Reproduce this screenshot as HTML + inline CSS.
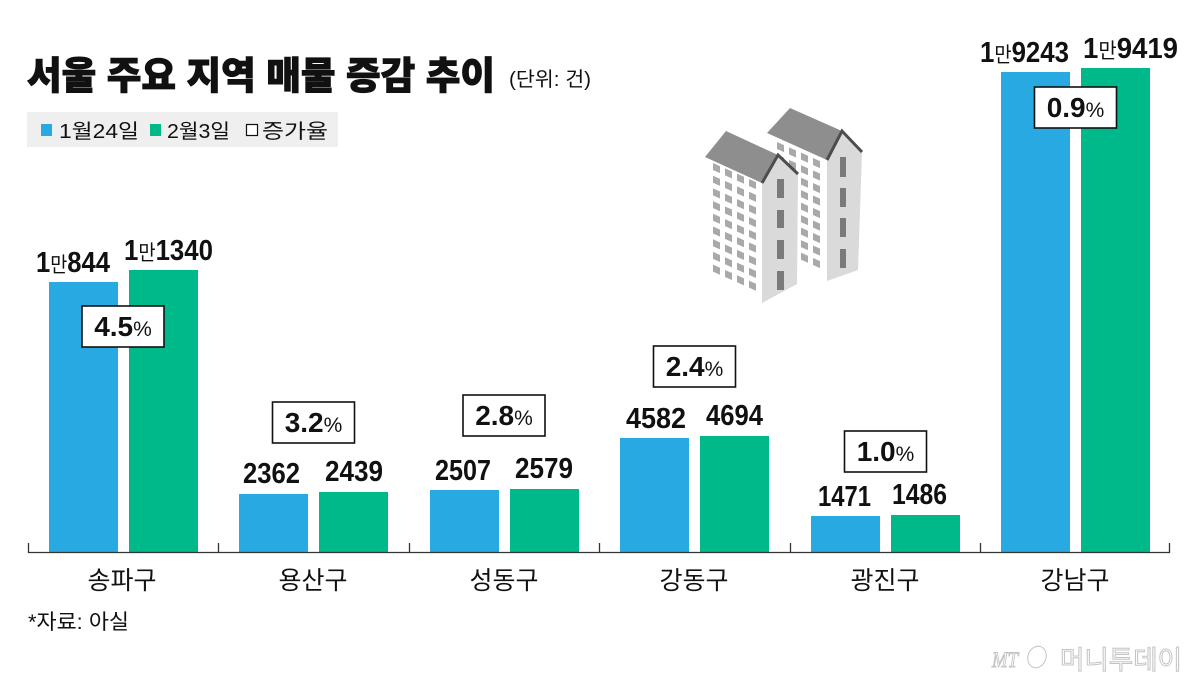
<!DOCTYPE html>
<html>
<head>
<meta charset="utf-8">
<style>
  html,body{margin:0;padding:0;background:#fff;}
  svg{display:block;}
  .num{font-family:"Liberation Sans","Noto Sans CJK KR",sans-serif;font-weight:700;fill:#111;}
  .kr{font-family:"Liberation Sans","Noto Sans CJK KR",sans-serif;fill:#111;}
</style>
</head>
<body>
<svg width="1200" height="684" viewBox="0 0 1200 684" xmlns="http://www.w3.org/2000/svg">
  <rect width="1200" height="684" fill="#fff"/>

  <!-- Title -->
  <text class="kr" x="27" y="89" font-size="38" font-weight="900" stroke="#111" stroke-width="0.9" textLength="468" lengthAdjust="spacingAndGlyphs">서울 주요 지역 매물 증감 추이</text>
  <text class="kr" x="509" y="86" font-size="20" textLength="82" lengthAdjust="spacingAndGlyphs">(단위: 건)</text>

  <!-- Legend -->
  <rect x="27" y="112" width="311" height="35" fill="#efefef"/>
  <rect x="41" y="124" width="11" height="12" fill="#29a9e1"/>
  <text class="kr" x="59" y="138" font-size="20" textLength="80" lengthAdjust="spacingAndGlyphs">1월24일</text>
  <rect x="150" y="124" width="11" height="12" fill="#00b98b"/>
  <text class="kr" x="167" y="138" font-size="20" textLength="63" lengthAdjust="spacingAndGlyphs">2월3일</text>
  <rect x="246.5" y="124.5" width="11" height="11" fill="#fff" stroke="#111" stroke-width="1.2"/>
  <text class="kr" x="262" y="138" font-size="20" textLength="66" lengthAdjust="spacingAndGlyphs">증가율</text>

  <!-- Buildings -->
  <!-- back building -->
  <g>
    <g transform="translate(777,142) skewY(24)" fill="#a9a9a9">
      <rect x="0" y="0" width="7" height="7"/><rect x="12" y="0" width="7" height="7"/><rect x="24" y="0" width="7" height="7"/><rect x="36" y="0" width="7" height="7"/>
      <rect x="0" y="12.5" width="7" height="7"/><rect x="12" y="12.5" width="7" height="7"/><rect x="24" y="12.5" width="7" height="7"/><rect x="36" y="12.5" width="7" height="7"/>
      <rect x="0" y="25" width="7" height="7"/><rect x="12" y="25" width="7" height="7"/><rect x="24" y="25" width="7" height="7"/><rect x="36" y="25" width="7" height="7"/>
      <rect x="0" y="37.5" width="7" height="7"/><rect x="12" y="37.5" width="7" height="7"/><rect x="24" y="37.5" width="7" height="7"/><rect x="36" y="37.5" width="7" height="7"/>
      <rect x="0" y="50" width="7" height="7"/><rect x="12" y="50" width="7" height="7"/><rect x="24" y="50" width="7" height="7"/><rect x="36" y="50" width="7" height="7"/>
      <rect x="0" y="62.5" width="7" height="7"/><rect x="12" y="62.5" width="7" height="7"/><rect x="24" y="62.5" width="7" height="7"/><rect x="36" y="62.5" width="7" height="7"/>
      <rect x="0" y="75" width="7" height="7"/><rect x="12" y="75" width="7" height="7"/><rect x="24" y="75" width="7" height="7"/><rect x="36" y="75" width="7" height="7"/>
      <rect x="0" y="87.5" width="7" height="7"/><rect x="12" y="87.5" width="7" height="7"/><rect x="24" y="87.5" width="7" height="7"/><rect x="36" y="87.5" width="7" height="7"/>
      <rect x="0" y="100" width="7" height="7"/><rect x="12" y="100" width="7" height="7"/><rect x="24" y="100" width="7" height="7"/><rect x="36" y="100" width="7" height="7"/>
    </g>
    <polygon points="827,160 842,131 862,152 858,270 827,281" fill="#dadada"/>
    <rect x="840" y="157" width="6" height="20" fill="#7a7a7a"/>
    <rect x="840" y="188" width="6" height="19" fill="#7a7a7a"/>
    <rect x="840" y="218" width="6" height="19" fill="#7a7a7a"/>
    <rect x="840" y="249" width="6" height="19" fill="#7a7a7a"/>
    <polygon points="767,133 790,108 842,131 827,160" fill="#8e8e8e"/>
    <polyline points="827,160 842,131 862,152" fill="none" stroke="#4d4d4d" stroke-width="3"/>
  </g>
  <!-- front building -->
  <g>
    <polygon points="706,158 762,183 762,303 706,285" fill="#fff"/>
    <g transform="translate(713,163) skewY(24)" fill="#a9a9a9">
      <rect x="0" y="0" width="7" height="7"/><rect x="12" y="0" width="7" height="7"/><rect x="24" y="0" width="7" height="7"/><rect x="36" y="0" width="7" height="7"/>
      <rect x="0" y="12.7" width="7" height="7"/><rect x="12" y="12.7" width="7" height="7"/><rect x="24" y="12.7" width="7" height="7"/><rect x="36" y="12.7" width="7" height="7"/>
      <rect x="0" y="25.4" width="7" height="7"/><rect x="12" y="25.4" width="7" height="7"/><rect x="24" y="25.4" width="7" height="7"/><rect x="36" y="25.4" width="7" height="7"/>
      <rect x="0" y="38.1" width="7" height="7"/><rect x="12" y="38.1" width="7" height="7"/><rect x="24" y="38.1" width="7" height="7"/><rect x="36" y="38.1" width="7" height="7"/>
      <rect x="0" y="50.8" width="7" height="7"/><rect x="12" y="50.8" width="7" height="7"/><rect x="24" y="50.8" width="7" height="7"/><rect x="36" y="50.8" width="7" height="7"/>
      <rect x="0" y="63.5" width="7" height="7"/><rect x="12" y="63.5" width="7" height="7"/><rect x="24" y="63.5" width="7" height="7"/><rect x="36" y="63.5" width="7" height="7"/>
      <rect x="0" y="76.2" width="7" height="7"/><rect x="12" y="76.2" width="7" height="7"/><rect x="24" y="76.2" width="7" height="7"/><rect x="36" y="76.2" width="7" height="7"/>
      <rect x="0" y="88.9" width="7" height="7"/><rect x="12" y="88.9" width="7" height="7"/><rect x="24" y="88.9" width="7" height="7"/><rect x="36" y="88.9" width="7" height="7"/>
      <rect x="0" y="101.6" width="7" height="7"/><rect x="12" y="101.6" width="7" height="7"/><rect x="24" y="101.6" width="7" height="7"/><rect x="36" y="101.6" width="7" height="7"/>
    </g>
    <polygon points="762,183 778,155 798,174 797,284 762,303" fill="#dadada"/>
    <rect x="777" y="179" width="7" height="19" fill="#7a7a7a"/>
    <rect x="777" y="210" width="7" height="18" fill="#7a7a7a"/>
    <rect x="777" y="240" width="7" height="19" fill="#7a7a7a"/>
    <rect x="777" y="271" width="7" height="19" fill="#7a7a7a"/>
    <polygon points="705,157 726,131 778,155 762,183" fill="#8e8e8e"/>
    <polyline points="762,183 778,155 798,174" fill="none" stroke="#4d4d4d" stroke-width="3"/>
  </g>

  <!-- Bars -->
  <g>
    <rect x="49" y="282" width="69" height="271" fill="#29a9e1"/>
    <rect x="129" y="270" width="69" height="283" fill="#00b98b"/>
    <rect x="239" y="494" width="69" height="59" fill="#29a9e1"/>
    <rect x="319" y="492" width="69" height="61" fill="#00b98b"/>
    <rect x="430" y="490" width="69" height="63" fill="#29a9e1"/>
    <rect x="510" y="489" width="69" height="64" fill="#00b98b"/>
    <rect x="620" y="438" width="69" height="115" fill="#29a9e1"/>
    <rect x="700" y="436" width="69" height="117" fill="#00b98b"/>
    <rect x="811" y="516" width="69" height="37" fill="#29a9e1"/>
    <rect x="891" y="515" width="69" height="38" fill="#00b98b"/>
    <rect x="1001" y="72" width="69" height="481" fill="#29a9e1"/>
    <rect x="1081" y="68" width="69" height="485" fill="#00b98b"/>
  </g>

  <!-- Axis -->
  <g stroke="#333" stroke-width="1.3" fill="none">
    <line x1="28" y1="552.5" x2="1170" y2="552.5"/>
    <line x1="28.5" y1="543" x2="28.5" y2="553"/>
    <line x1="218.5" y1="543" x2="218.5" y2="553"/>
    <line x1="409.5" y1="543" x2="409.5" y2="553"/>
    <line x1="599.5" y1="543" x2="599.5" y2="553"/>
    <line x1="790.5" y1="543" x2="790.5" y2="553"/>
    <line x1="980.5" y1="543" x2="980.5" y2="553"/>
    <line x1="1169.5" y1="543" x2="1169.5" y2="553"/>
  </g>

  <!-- Value labels -->
  <text class="num" x="36" y="272" font-size="29" textLength="74" lengthAdjust="spacingAndGlyphs">1<tspan font-size="21" font-weight="400">만</tspan>844</text>
  <text class="num" x="124" y="260" font-size="29" textLength="89" lengthAdjust="spacingAndGlyphs">1<tspan font-size="21" font-weight="400">만</tspan>1340</text>
  <text class="num" x="243" y="483" font-size="29" textLength="57" lengthAdjust="spacingAndGlyphs">2362</text>
  <text class="num" x="325" y="481" font-size="29" textLength="58" lengthAdjust="spacingAndGlyphs">2439</text>
  <text class="num" x="435" y="480" font-size="29" textLength="56" lengthAdjust="spacingAndGlyphs">2507</text>
  <text class="num" x="515" y="478" font-size="29" textLength="58" lengthAdjust="spacingAndGlyphs">2579</text>
  <text class="num" x="626" y="428" font-size="29" textLength="60" lengthAdjust="spacingAndGlyphs">4582</text>
  <text class="num" x="706" y="425" font-size="29" textLength="57" lengthAdjust="spacingAndGlyphs">4694</text>
  <text class="num" x="818" y="506" font-size="29" textLength="53" lengthAdjust="spacingAndGlyphs">1471</text>
  <text class="num" x="892" y="504" font-size="29" textLength="55" lengthAdjust="spacingAndGlyphs">1486</text>
  <text class="num" x="980" y="62" font-size="29" textLength="89" lengthAdjust="spacingAndGlyphs">1<tspan font-size="21" font-weight="400">만</tspan>9243</text>
  <text class="num" x="1083" y="58" font-size="29" textLength="95" lengthAdjust="spacingAndGlyphs">1<tspan font-size="21" font-weight="400">만</tspan>9419</text>

  <!-- Percent boxes -->
  <g fill="#fff" stroke="#111" stroke-width="1.6">
    <rect x="82" y="306" width="82" height="41"/>
    <rect x="272.5" y="402" width="82" height="41"/>
    <rect x="463" y="395" width="82" height="41"/>
    <rect x="653.5" y="346" width="82" height="41"/>
    <rect x="844.5" y="431" width="82" height="41"/>
    <rect x="1034.5" y="87" width="82" height="41"/>
  </g>
  <g class="num" font-size="28" text-anchor="middle">
    <text class="num" x="123" y="336" font-size="28">4.5<tspan font-size="21" font-weight="400">%</tspan></text>
    <text class="num" x="313.5" y="432" font-size="28">3.2<tspan font-size="21" font-weight="400">%</tspan></text>
    <text class="num" x="504" y="425" font-size="28">2.8<tspan font-size="21" font-weight="400">%</tspan></text>
    <text class="num" x="694.5" y="376" font-size="28">2.4<tspan font-size="21" font-weight="400">%</tspan></text>
    <text class="num" x="885.5" y="461" font-size="28">1.0<tspan font-size="21" font-weight="400">%</tspan></text>
    <text class="num" x="1075.5" y="117" font-size="28">0.9<tspan font-size="21" font-weight="400">%</tspan></text>
  </g>

  <!-- Category labels -->
  <g class="kr" font-size="25" text-anchor="middle">
    <text x="122" y="589">송파구</text>
    <text x="313" y="589">용산구</text>
    <text x="504" y="589">성동구</text>
    <text x="694" y="589">강동구</text>
    <text x="885" y="589">광진구</text>
    <text x="1075" y="589">강남구</text>
  </g>

  <!-- Source -->
  <text class="kr" x="28" y="629" font-size="21" textLength="101" lengthAdjust="spacingAndGlyphs">*자료: 아실</text>

  <!-- Logo -->
  <g fill="#fff" stroke="#c4c4c4" stroke-width="1">
    <text x="992" y="667" font-family="Liberation Serif, serif" font-style="italic" font-size="22" textLength="26" lengthAdjust="spacingAndGlyphs">MT</text>
    <ellipse cx="1037" cy="657" rx="9" ry="11" transform="rotate(20 1037 657)"/>
    <text x="1060" y="669" font-family="Liberation Sans, Noto Sans CJK KR, sans-serif" font-size="26" textLength="122" lengthAdjust="spacingAndGlyphs">머니투데이</text>
  </g>
</svg>
</body>
</html>
